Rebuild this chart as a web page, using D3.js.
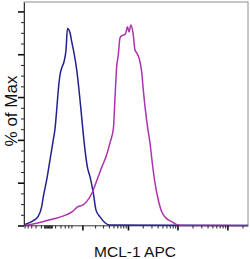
<!DOCTYPE html>
<html>
<head>
<meta charset="utf-8">
<script src="https://cdn.jsdelivr.net/npm/d3@7"></script>
<style>
  body { margin: 0; background: #fff; }
  svg { display: block; }
  .tick text { display: none; }
</style>
</head>
<body>
<svg id="chart" width="250" height="259"></svg>
<script>
// MCL-1 APC intensity (biexponential-like axis) and % of Max
var isoX = [-486, -257, -151, -87, -62, -16, 25, 71, 98, 127, 157, 190, 227, 281, 333, 375, 453, 511, 596, 710, 818, 921, 1017, 1160, 1318, 1527, 1820, 2095, 2570, 3302, 4226, 2580000]
var isoY = [0.5, 2.2, 4.1, 8.8, 13.5, 21.3, 30.6, 40, 45.1, 54, 63.3, 70.3, 73.6, 76.5, 82, 92, 90, 85.9, 80.6, 72.7, 63.3, 54, 45.6, 35.3, 27.5, 22.8, 15.2, 7.2, 4, 1.3, 0.2, 0]

var mclX = [-486, -257, -67, 67, 257, 521, 769, 1035, 1297, 1699, 2206, 2843, 3470, 4226, 5000, 5387, 5846, 6313, 6847, 7428, 8285, 8896, 9778, 10498, 11536, 12673, 13920, 15075, 16788, 19046, 20521, 22214, 25182, 28019, 31181, 35346, 41203, 48230, 56190, 76600, 96500, 112360, 2580000]
var mclY = [0, 0.7, 1.8, 3, 4.4, 6.4, 8.8, 9.6, 11.4, 15.2, 21.3, 27.5, 32.1, 38.6, 45.6, 59.6, 74.2, 79.7, 87.6, 88.6, 89, 89.5, 92.8, 90.4, 93.7, 90, 82, 80.6, 78.3, 71.7, 63.3, 55.5, 45.6, 38.6, 29.2, 19.9, 11.9, 6.4, 4, 1.8, 0.4, 0, 0]

var yMajor = [0, 20, 40, 60, 80, 100]
var yMinor = [5, 10, 15, 25, 30, 35, 45, 50, 55, 65, 70, 75, 85, 90, 95]
var xMajor = [1000, 10000, 100000, 1000000]
var xMinor = [-500, -400, -300, -200, -100, -50, -40, -30, -20, -10, 0, 10, 20, 30, 40, 50, 100, 200, 300, 400, 500,
  2000, 3000, 4000, 5000, 6000, 7000, 8000, 9000,
  20000, 30000, 40000, 50000, 60000, 70000, 80000, 90000,
  200000, 300000, 400000, 500000, 600000, 700000, 800000, 900000, 2000000]

var plotLeft = 24, plotRight = 248, plotTop = 2, plotBottom = 225.5

var svg = d3.select("#chart")

var x = d3.scaleSymlog()
  .constant(258)
  .domain([-521, 2580000])
  .range([plotLeft, plotRight])

var y = d3.scaleLinear()
  .domain([0, 104.4])
  .range([plotBottom, plotTop])

// frame
svg.append("rect")
  .attr("x", plotLeft)
  .attr("y", plotTop)
  .attr("width", plotRight - plotLeft)
  .attr("height", plotBottom - plotTop)
  .attr("fill", "none")
  .attr("stroke", "#8c8c8c")
  .attr("stroke-width", 1)

var line = d3.line()
  .x(function(d) { return x(d[0]) })
  .y(function(d) { return y(d[1]) })
  .curve(d3.curveMonotoneX)

svg.append("path")
  .datum(d3.zip(isoX, isoY))
  .attr("d", line)
  .attr("fill", "none")
  .attr("stroke", "#22228c")
  .attr("stroke-width", 1.5)

svg.append("path")
  .datum(d3.zip(mclX, mclY))
  .attr("d", line)
  .attr("fill", "none")
  .attr("stroke", "#ad33ad")
  .attr("stroke-width", 1.5)

// y axis
svg.append("g")
  .attr("transform", "translate(" + plotLeft + ",0)")
  .call(d3.axisLeft(y).tickValues(yMinor).tickSize(3).tickFormat(""))
  .call(function(g) { g.select(".domain").remove() })
  .selectAll("line").attr("stroke", "#222")

svg.append("g")
  .attr("transform", "translate(" + plotLeft + ",0)")
  .call(d3.axisLeft(y).tickValues(yMajor).tickSize(6).tickSizeOuter(0).tickFormat(""))
  .call(function(g) {
    g.select(".domain").attr("stroke", "#333")
    g.selectAll("line").attr("stroke", "#111").attr("stroke-width", 1.6)
  })

// x axis
svg.append("g")
  .attr("transform", "translate(0," + plotBottom + ")")
  .call(d3.axisBottom(x).tickValues(xMinor).tickSize(3).tickFormat(""))
  .call(function(g) { g.select(".domain").remove() })
  .selectAll("line").attr("stroke", "#222")

svg.append("g")
  .attr("transform", "translate(0," + plotBottom + ")")
  .call(d3.axisBottom(x).tickValues(xMajor).tickSize(5).tickSizeOuter(0).tickFormat(""))
  .call(function(g) {
    g.select(".domain").attr("stroke", "#333").attr("stroke-opacity", 0.6)
    g.selectAll("line").attr("stroke", "#111").attr("stroke-width", 1.6)
  })

// labels
svg.append("text")
  .attr("transform", "translate(17,111) rotate(-90)")
  .attr("text-anchor", "middle")
  .style("font-family", "Liberation Sans, Arial, sans-serif")
  .style("font-size", "17px")
  .attr("fill", "#111")
  .text("% of Max")

svg.append("text")
  .attr("x", 135)
  .attr("y", 257)
  .attr("text-anchor", "middle")
  .style("font-family", "Liberation Sans, Arial, sans-serif")
  .style("font-size", "15.5px")
  .attr("fill", "#111")
  .text("MCL-1 APC")
</script>
</body>
</html>
